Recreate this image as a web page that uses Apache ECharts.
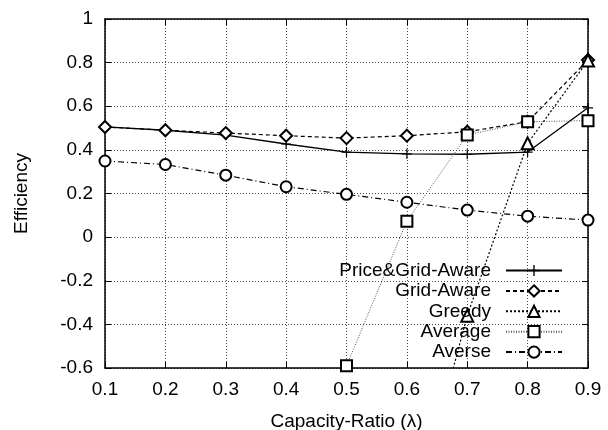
<!DOCTYPE html>
<html>
<head>
<meta charset="utf-8">
<script src="https://cdn.jsdelivr.net/npm/echarts@6/dist/echarts.min.js"></script>
<style>
  html, body { margin: 0; padding: 0; background: #fff; }
  #chart { width: 608px; height: 430px; }
</style>
</head>
<body>
<div id="chart"></div>
<script>
// Capacity ratio (x) and efficiency per strategy
const ratios = [0.1, 0.2, 0.3, 0.4, 0.5, 0.6, 0.7, 0.8, 0.9];
const priceGridAware = [0.505, 0.49, 0.468, 0.427, 0.39, 0.382, 0.38, 0.39, 0.593];
const gridAware = [0.505, 0.49, 0.477, 0.465, 0.454, 0.465, 0.483, 0.529, 0.812];
const greedy = [null, null, null, null, null, -1.4, -0.36, 0.43, 0.81];
const average = [null, null, null, null, -0.59, 0.073, 0.468, 0.529, 0.534];
const averse = [0.349, 0.333, 0.284, 0.231, 0.196, 0.16, 0.124, 0.096, 0.078];

const font = "'Liberation Sans', Arial, sans-serif";
const pairs = (vals) => ratios.map((x, i) => [x, vals[i]]);

const chart = echarts.init(document.getElementById('chart'));

// gnuplot-ish framed axes: ticks pointing inside, dotted grid
const axisBase = {
  type: 'value',
  axisLine: { show: true, onZero: false, lineStyle: { color: '#000', width: 1.5 } },
  axisTick: { show: true, inside: true, length: 6, lineStyle: { color: '#000', width: 1 } }
};

const plusPath = 'path://M4.4,0h1.2v4.4h4.4v1.2h-4.4v4.4h-1.2v-4.4h-4.4v-1.2h4.4z';

chart.setOption({
  backgroundColor: '#fff',
  animation: false,
  grid: { left: 105, right: 20, top: 19, bottom: 62, outerBoundsMode: 'none' },
  xAxis: [
    {
      ...axisBase,
      min: 0.1, max: 0.9, interval: 0.1,
      name: 'Capacity-Ratio (λ)',
      nameLocation: 'middle',
      nameGap: 44,
      nameTextStyle: { fontFamily: font, fontSize: 19, color: '#000' },
      axisLabel: { fontFamily: font, fontSize: 19, color: '#000', margin: 12, formatter: v => v.toFixed(1) },
      splitLine: { show: true, lineStyle: { color: '#444', type: [1, 2], width: 1 } }
    },
    {
      ...axisBase,
      position: 'top',
      min: 0.1, max: 0.9, interval: 0.1,
      axisLabel: { show: false },
      splitLine: { show: false }
    }
  ],
  yAxis: [
    {
      ...axisBase,
      min: -0.6, max: 1, interval: 0.2,
      name: 'Efficiency',
      nameLocation: 'middle',
      nameGap: 74,
      nameTextStyle: { fontFamily: font, fontSize: 19, color: '#000' },
      axisLabel: { fontFamily: font, fontSize: 19, color: '#000', margin: 12,
        formatter: v => String(Math.round(v * 10) / 10) },
      splitLine: { show: true, lineStyle: { color: '#444', type: [1, 2], width: 1 } }
    },
    {
      ...axisBase,
      position: 'right',
      min: -0.6, max: 1, interval: 0.2,
      axisLabel: { show: false },
      splitLine: { show: false }
    }
  ],
  legend: {
    orient: 'vertical',
    right: 40,
    top: 256,
    align: 'right',
    itemWidth: 56,
    itemHeight: 14,
    itemGap: 1.4,
    formatter: name => '{t|' + name + '}',
    textStyle: {
      fontFamily: font, fontSize: 19, color: '#000',
      rich: { t: { fontFamily: font, fontSize: 19, color: '#000', padding: [0, 10, 0, 0] } }
    },
    data: ['Price&Grid-Aware', 'Grid-Aware', 'Greedy', 'Average', 'Averse']
  },
  series: [
    {
      name: 'Price&Grid-Aware', type: 'line', data: pairs(priceGridAware),
      symbol: plusPath, symbolSize: 10,
      lineStyle: { color: '#000', width: 1.3, type: 'solid' },
      itemStyle: { color: '#000' }
    },
    {
      name: 'Grid-Aware', type: 'line', data: pairs(gridAware),
      symbol: 'emptyDiamond', symbolSize: 12,
      lineStyle: { color: '#000', width: 1.2, type: [4, 3] },
      itemStyle: { color: '#000', borderWidth: 1.2 }
    },
    {
      name: 'Greedy', type: 'line', data: pairs(greedy),
      symbol: 'emptyTriangle', symbolSize: 12,
      lineStyle: { color: '#000', width: 1.2, type: [2, 2] },
      itemStyle: { color: '#000', borderWidth: 1.2 }
    },
    {
      name: 'Average', type: 'line', data: pairs(average),
      symbol: 'emptyRect', symbolSize: 11,
      lineStyle: { color: '#555', width: 1, type: [1, 1.5] },
      itemStyle: { color: '#000', borderWidth: 1.2 }
    },
    {
      name: 'Averse', type: 'line', data: pairs(averse),
      symbol: 'emptyCircle', symbolSize: 11,
      lineStyle: { color: '#000', width: 1.2, type: [6, 3, 1, 3] },
      itemStyle: { color: '#000', borderWidth: 1.2 }
    }
  ]
});
</script>
</body>
</html>
